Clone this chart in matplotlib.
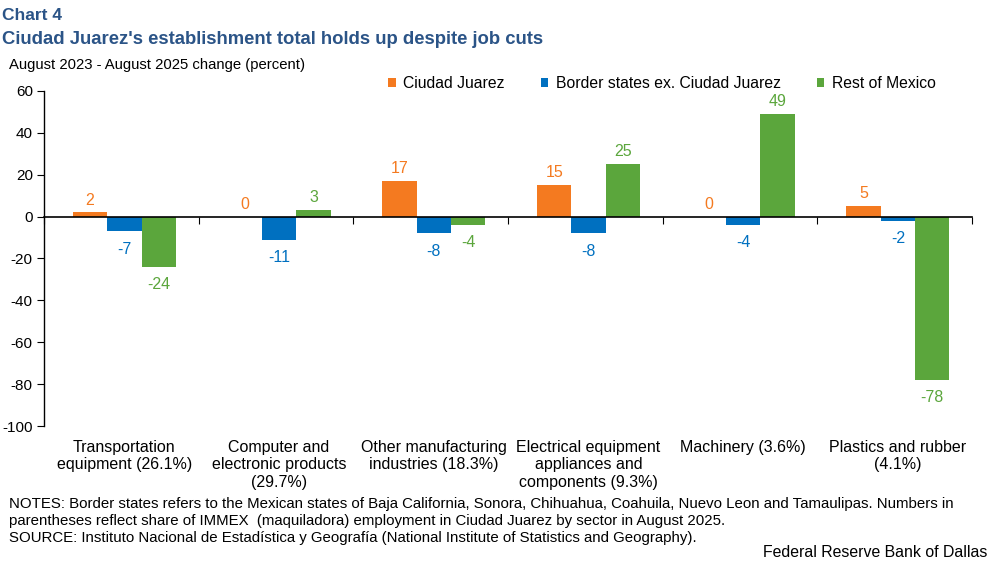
import numpy as np
import matplotlib
matplotlib.use("Agg")
import matplotlib.pyplot as plt
import matplotlib.transforms as mtransforms

plt.rcParams['font.family'] = ['Liberation Sans', 'DejaVu Sans']
plt.rcParams['axes.unicode_minus'] = False

# data
categories = [
    "Transportation\nequipment (26.1%)",
    "Computer and\nelectronic products\n(29.7%)",
    "Other manufacturing\nindustries (18.3%)",
    "Electrical equipment\nappliances and\ncomponents (9.3%)",
    "Machinery (3.6%)",
    "Plastics and rubber\n(4.1%)",
]
series_names = ["Ciudad Juarez", "Border states ex. Ciudad Juarez", "Rest of Mexico"]
ciudad_juarez = [2, 0, 17, 15, 0, 5]
border_states = [-7, -11, -8, -8, -4, -2]
rest_of_mexico = [-24, 3, -4, 25, 49, -78]
y_ticks = [-100, -80, -60, -40, -20, 0, 20, 40, 60]

colors = ["#F47A20", "#0070C0", "#5BA63C"]
title_color = "#2B5487"

fig = plt.figure(figsize=(9.97, 5.65), dpi=100)
ax = fig.add_axes([0.0441, 0.246, 0.931, 0.593])

x = np.arange(len(categories))
w = 0.222
for k, vals in enumerate([ciudad_juarez, border_states, rest_of_mexico]):
    pos = x + (k - 1) * w + 0.02
    ax.bar(pos, vals, width=w, color=colors[k], label=series_names[k], zorder=2)
    for p, v in zip(pos, vals):
        if v >= 0:
            ax.annotate(f"{v}", (p, v), xytext=(0, 3.5), textcoords="offset points",
                        ha="center", va="bottom", color=colors[k], fontsize=11.5)
        else:
            ax.annotate(f"{v}", (p, v), xytext=(0, -7.5), textcoords="offset points",
                        ha="center", va="top", color=colors[k], fontsize=11.5)

ax.set_xlim(-0.5, len(categories) - 0.5)
ax.set_ylim(-100, 60)
ax.set_yticks(y_ticks)
ax.tick_params(axis="y", labelsize=11, length=5, direction="out", pad=3)

for s in ["top", "right"]:
    ax.spines[s].set_visible(False)
ax.spines["left"].set_linewidth(1)
ax.spines["bottom"].set_position(("data", 0))
ax.spines["bottom"].set_linewidth(1.2)
ax.set_xticks(np.arange(len(categories) + 1) - 0.5)
ax.set_xticklabels([])
ax.tick_params(axis="x", length=5, direction="out")

trans = mtransforms.blended_transform_factory(ax.transData, ax.transAxes)
for i, c in enumerate(categories):
    ax.text(i + 0.02, -0.042, c, transform=trans, ha="center", va="top", fontsize=11.5,
            linespacing=1.2)

leg = ax.legend(loc="center left", bbox_to_anchor=(0.364, 1.021), ncol=3, frameon=False,
                fontsize=11.3, handlelength=0.5, handleheight=0.5, handletextpad=0.45,
                columnspacing=2.3, borderaxespad=0)

fig.text(0.002, 0.985, "Chart 4", fontsize=12.5, fontweight="bold", color=title_color,
         va="top")
fig.text(0.002, 0.945, "Ciudad Juarez's establishment total holds up despite job cuts",
         fontsize=13.3, fontweight="bold", color=title_color, va="top")
fig.text(0.009, 0.897, "August 2023 - August 2025 change (percent)", fontsize=10.7, va="top")

notes = ("NOTES: Border states refers to the Mexican states of Baja California, Sonora, Chihuahua, "
         "Coahuila, Nuevo Leon and Tamaulipas. Numbers in\nparentheses reflect share of IMMEX  "
         "(maquiladora) employment in Ciudad Juarez by sector in August 2025.\n"
         "SOURCE: Instituto Nacional de Estadística y Geografía (National Institute of Statistics and Geography).")
fig.text(0.009, 0.121, notes, fontsize=10.85, va="top", linespacing=1.27)
fig.text(0.99, 0.023, "Federal Reserve Bank of Dallas", fontsize=11.4, ha="right", va="center")

fig.savefig("out.png", dpi=100)
